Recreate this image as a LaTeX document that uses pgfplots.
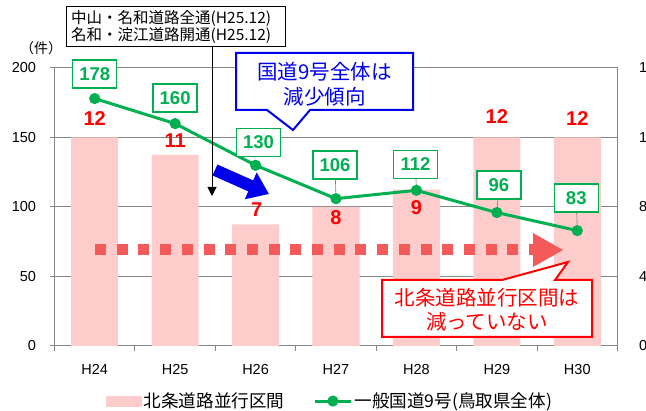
\documentclass[border=0pt]{standalone}
\usepackage{fontspec}
\setmainfont{Liberation Sans}
\newfontfamily\jp{Noto Sans CJK JP}
\usepackage{pgfplots}
\pgfplotsset{compat=1.18}
\usetikzlibrary{arrows.meta}

\definecolor{barpink}{RGB}{255,204,204}
\definecolor{lgreen}{RGB}{0,176,80}
\definecolor{axisgray}{RGB}{134,134,134}
\definecolor{dotred}{RGB}{245,90,90}
\definecolor{callblue}{RGB}{0,0,235}
\newcommand\fs[1]{\fontsize{#1}{#1}\selectfont}

\tikzset{
  redlab/.style={text=red, font=\bfseries\fs{20}, inner sep=0pt, text depth=0pt},
  glab/.style={draw=lgreen, line width=1.5pt, fill=white, text=lgreen,
    font=\bfseries\fs{18.5}, minimum width=44pt, minimum height=28pt,
    inner sep=0pt, text depth=0pt},
}

\begin{document}
\begin{tikzpicture}
\pgfplotsset{
  base/.style={at={(54.5pt,65pt)}, anchor=south west, scale only axis,
    width=563pt, height=278pt, xmin=-0.5, xmax=6.5, ymin=0, clip=false,
    /pgf/number format/assume math mode=true,
    ticklabel style={font=\fs{14.5}}},
}

% right scale (件数 of the parallel section): frame, grid, bars
\begin{axis}[base, ymax=16, ytick={0,4,8,12,16},
  ymajorgrids, grid style={axisgray, line width=1pt},
  ytick pos=right, yticklabel pos=right, ytick style={draw=none},
  yticklabel style={anchor=west, xshift=13pt},
  axis line style={axisgray, line width=1pt},
  xtick={-0.5,0.5,...,6.5}, xticklabels={}, xtick pos=bottom,
  xtick style={axisgray, line width=1pt}, tick align=outside,
  major tick length=5pt]
\addplot[ybar, bar width=47pt, bar shift=0pt, fill=barpink, draw=none]
  coordinates {(0,12) (1,11) (2,7) (3,8) (4,9) (5,12) (6,12)};
\node[redlab, yshift=18.5pt] at (axis cs:0,12) {12};
\node[redlab, yshift=14pt]   at (axis cs:1,11) {11};
\node[redlab, yshift=14.5pt, xshift=1pt] at (axis cs:2,7) {7};
\node[redlab, yshift=-11pt]  at (axis cs:3,8) {8};
\node[redlab, yshift=-17.5pt] at (axis cs:4,9) {9};
\node[redlab, yshift=20.5pt] at (axis cs:5,12) {12};
\node[redlab, yshift=18.5pt] at (axis cs:6,12) {12};
\end{axis}

% left scale: Route 9 total
\begin{axis}[base, ymax=200, ytick={0,50,...,200}, ytick pos=left,
  yticklabel style={xshift=-11pt},
  ytick style={axisgray, line width=1pt}, tick align=outside,
  major tick length=4pt,
  axis line style={draw=none},
  xtick={0,...,6}, xticklabels={H24,H25,H26,H27,H28,H29,H30},
  xtick pos=bottom, xtick style={draw=none},
  xticklabel style={yshift=-10.5pt},
  legend columns=2, legend cell align=left,
  legend style={draw=none, fill=none, inner sep=0pt,
    at={(0.0915,-0.198)}, anchor=west, font=\jp\fs{17.6},
    /tikz/every even column/.append style={column sep=27pt}}]
\addlegendimage{legend image code/.code={\fill[barpink] (0pt,-5pt) rectangle (35pt,5pt);}}
\addlegendentry{北条道路並行区間}
% leader lines from value boxes
\draw[gray, line width=0.6pt] (axis cs:3,106) -- ++(-1pt,33pt);
\draw[gray, line width=0.6pt] (axis cs:4,112) -- ++(-1pt,26pt);
\draw[gray, line width=0.6pt] (axis cs:5,96) -- ++(2pt,27pt);
\draw[gray, line width=0.6pt] (axis cs:6,83) -- ++(-1pt,32pt);
\addplot[color=lgreen, line width=3pt, mark=*, mark size=4pt,
  mark options={fill=lgreen, draw=lgreen},
  legend image code/.code={\draw[lgreen, line width=3pt] (0pt,0pt) -- (36pt,0pt);
    \fill[lgreen] (18pt,0pt) circle (4pt);}]
  coordinates {(0,178) (1,160) (2,130) (3,106) (4,112) (5,96) (6,83)};
\addlegendentry{一般国道9号(鳥取県全体)}
\node[glab, yshift=24.6pt] at (axis cs:0,178) {178};
\node[glab, yshift=25.6pt] at (axis cs:1,160) {160};
\node[glab, yshift=23pt, xshift=3pt] at (axis cs:2,130) {130};
\node[glab, yshift=33.7pt, xshift=-1pt] at (axis cs:3,106) {106};
\node[glab, yshift=26pt, xshift=-1pt] at (axis cs:4,112) {112};
\node[glab, yshift=27.6pt, xshift=2pt] at (axis cs:5,96) {96};
\node[glab, yshift=32.6pt, xshift=-1pt] at (axis cs:6,83) {83};
\end{axis}

% annotations, in pixel-like units measured from the top left corner
\begin{scope}[x=1pt, y=-1pt, yshift=411pt]
\node[font=\jp\fs{14}] at (41,48) {（件）};
% opening note
\draw[black, line width=1pt, -{Triangle[length=9pt, width=9pt]}] (212,47) -- (212,196);
\draw[black, line width=1pt, fill=white] (66.5,6.5) rectangle (285,47);
\node[anchor=west, font=\jp\fontsize{15.5}{15}\selectfont, align=left, inner sep=0pt]
  at (71,27) {中山・名和道路全通(H25.12)\\名和・淀江道路開通(H25.12)};
% overall trend callout
\filldraw[draw=callblue, line width=2pt, fill=white]
  (236,53) -- (413,53) -- (413,110) -- (310,110) -- (293,130) -- (267,110)
  -- (236,110) -- cycle;
\node[text=callblue, font=\jp\fontsize{20.5}{25}\selectfont, align=center]
  at (324.5,84.5) {国道9号全体は\\減少傾向};
\draw[callblue, line width=12pt, -{Triangle[length=20pt, width=28pt]}]
  (215,170) -- (269,194);
% parallel section trend
\draw[dotred, line width=11pt, dash pattern=on 11pt off 10.7pt] (95,250) -- (533,250);
\fill[dotred] (533,233) -- (563,250) -- (533,267) -- cycle;
\filldraw[draw=red, line width=2pt, fill=white]
  (382,280) -- (502,280) -- (568,262) -- (555,280) -- (592,280) -- (592,337)
  -- (382,337) -- cycle;
\node[text=red, font=\jp\fontsize{20.5}{24}\selectfont, align=center]
  at (487,310) {北条道路並行区間は\\減っていない};
\pgfresetboundingbox
\path[use as bounding box] (0,0) rectangle (646,411);
\end{scope}
\end{tikzpicture}
\end{document}
